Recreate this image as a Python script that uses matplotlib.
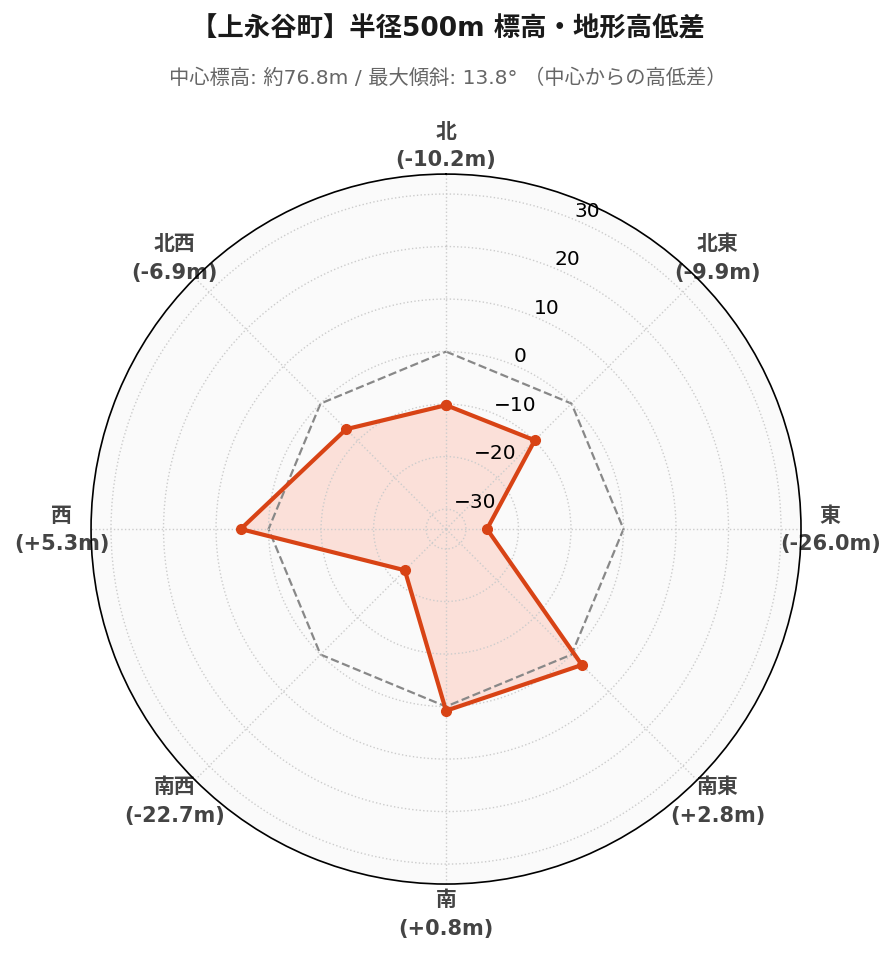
import numpy as np
import matplotlib
matplotlib.use("Agg")
import matplotlib.pyplot as plt

plt.rcParams['font.family'] = ['DejaVu Sans', 'Noto Sans CJK JP']

# 方位と中心からの高低差 (m)
directions = ["北", "北東", "東", "南東", "南", "南西", "西", "北西"]
diffs = [-10.2, -9.9, -26.0, 2.8, 0.8, -22.7, 5.3, -6.9]
r_ticks = [-30, -20, -10, 0, 10, 20, 30]
r_limit = 33.8

angles = np.deg2rad(np.arange(len(directions)) * 45.0)
angles_closed = np.append(angles, angles[0])
diffs_closed = np.append(diffs, diffs[0])
zero_closed = np.zeros(len(angles_closed))

fig = plt.figure(figsize=(8.96, 9.62), dpi=100)
ax = fig.add_axes([0.1016, 0.080, 0.7924, 0.738], projection="polar")
ax.set_theta_zero_location("N")
ax.set_theta_direction(-1)
ax.set_facecolor("#fafafa")

ax.fill(angles_closed, diffs_closed, color="#fcd5cb", alpha=0.7, zorder=1)
ax.plot(angles_closed, zero_closed, color="#888888", lw=1.6, ls="--", zorder=2)
ax.plot(angles_closed, diffs_closed, color="#d84315", lw=3, marker="o",
        markersize=7, zorder=6)

ax.set_ylim(-r_limit, r_limit)
ax.set_yticks(r_ticks)
ax.set_yticklabels([f"{t}".replace("-", "\u2212") for t in r_ticks], fontsize=14.5)
ax.set_rlabel_position(22.5)
ax.yaxis.set_zorder(5)

ax.set_xticks(angles)
ax.set_xticklabels([f"{d}\n({v:+.1f}m)" for d, v in zip(directions, diffs)],
                   fontsize=15, fontweight="bold", color="#444444", linespacing=1.55)
ax.tick_params(axis="x", pad=10.5)

ax.grid(True, color="#cccccc", ls=":", lw=1)
ax.spines["polar"].set_color("black")
ax.spines["polar"].set_linewidth(1.2)

fig.text(0.5, 0.969, "【上永谷町】半径500m 標高・地形高低差", ha="center", va="center",
         fontsize=19, fontweight="bold", color="#1a1a1a")
fig.text(0.5, 0.919, "中心標高: 約76.8m / 最大傾斜: 13.8° （中心からの高低差）",
         ha="center", va="center", fontsize=14.6, color="#666666")

fig.savefig("out.png", dpi=100, facecolor="white")
